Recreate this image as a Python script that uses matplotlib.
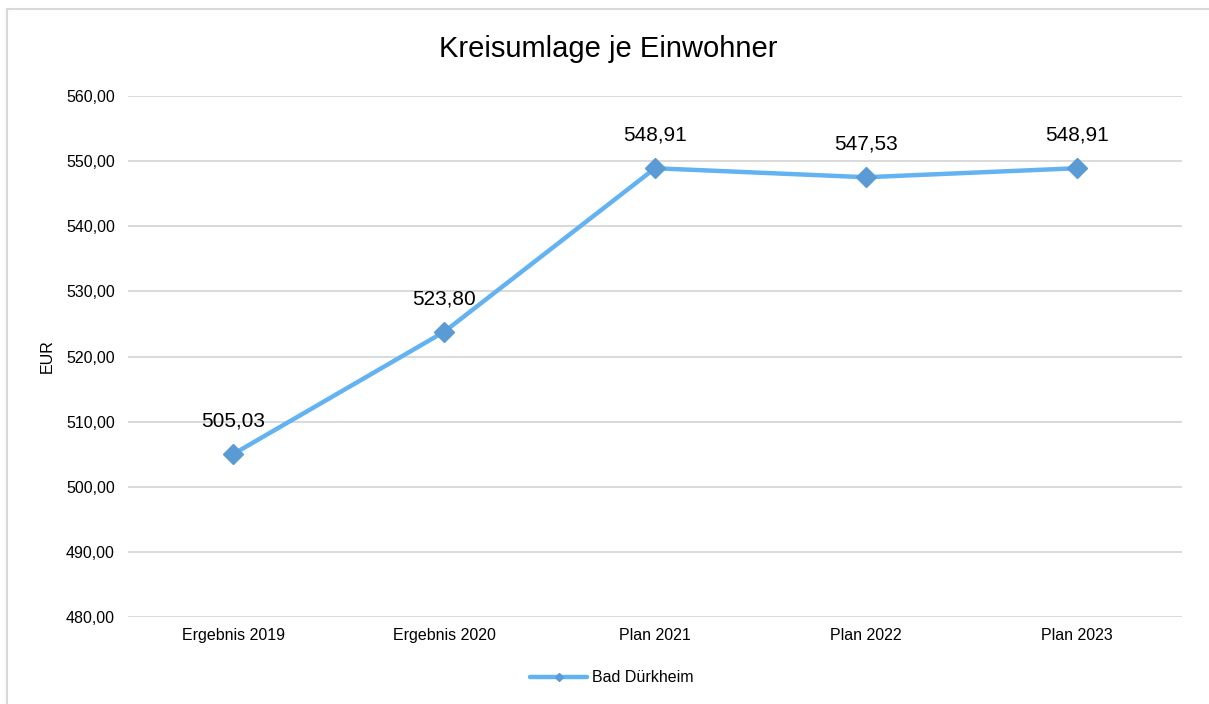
import matplotlib.pyplot as plt
from matplotlib.lines import Line2D

# data
categories = ["Ergebnis 2019", "Ergebnis 2020", "Plan 2021", "Plan 2022", "Plan 2023"]
values = [505.03, 523.80, 548.91, 547.53, 548.91]
series_name = "Bad Dürkheim"
y_ticks = [480, 490, 500, 510, 520, 530, 540, 550, 560]

plt.rcParams['font.family'] = ['Liberation Sans', 'DejaVu Sans']

def de_fmt(v):
    return "{:.2f}".format(v).replace(".", ",")

fig = plt.figure(figsize=(12.09, 7.04), dpi=100)
ax = fig.add_axes([0.1059, 0.1236, 0.8718, 0.7400])

x = list(range(len(categories)))
ax.plot(x, values, color='#63B3F2', linewidth=3.2, marker='D', markersize=10,
        markerfacecolor='#5B9BD5', markeredgecolor='#5B9BD5', label=series_name,
        solid_capstyle='round', zorder=3)

for xi, v in zip(x, values):
    ax.annotate(de_fmt(v), (xi, v), xytext=(0, 17), textcoords='offset points',
                ha='center', va='bottom', fontsize=15, color='#000000')

ax.set_xlim(-0.5, len(categories) - 0.5)
ax.set_ylim(y_ticks[0], y_ticks[-1])
ax.set_yticks(y_ticks)
ax.set_yticklabels([de_fmt(t) for t in y_ticks], fontsize=11.5)
ax.set_xticks(x)
ax.set_xticklabels(categories, fontsize=11.5)
ax.tick_params(axis='y', length=0, pad=9.5)
ax.tick_params(axis='x', length=0, pad=8)
ax.grid(axis='y', color='#D9D9D9', linewidth=1.4)
ax.set_axisbelow(True)
for s in ax.spines.values():
    s.set_visible(False)
ax.set_ylabel("EUR", fontsize=11.5, labelpad=8)

fig.text(0.503, 0.930, "Kreisumlage je Einwohner", ha='center', va='center', fontsize=21)

leg = fig.legend(loc='center', bbox_to_anchor=(0.506, 0.037), frameon=False, fontsize=11.5,
                 handlelength=3.6, handletextpad=0.3, markerscale=0.45)

# chart border (only top and left edges are visible in the crop)
bx = 7 / 1209
by = 1 - 9 / 704
fig.add_artist(Line2D([bx, 1.0], [by, by], transform=fig.transFigure, color='#D9D9D9', linewidth=1.5))
fig.add_artist(Line2D([bx, bx], [0.0, by], transform=fig.transFigure, color='#D9D9D9', linewidth=1.5))

fig.savefig('out.png', dpi=100)
